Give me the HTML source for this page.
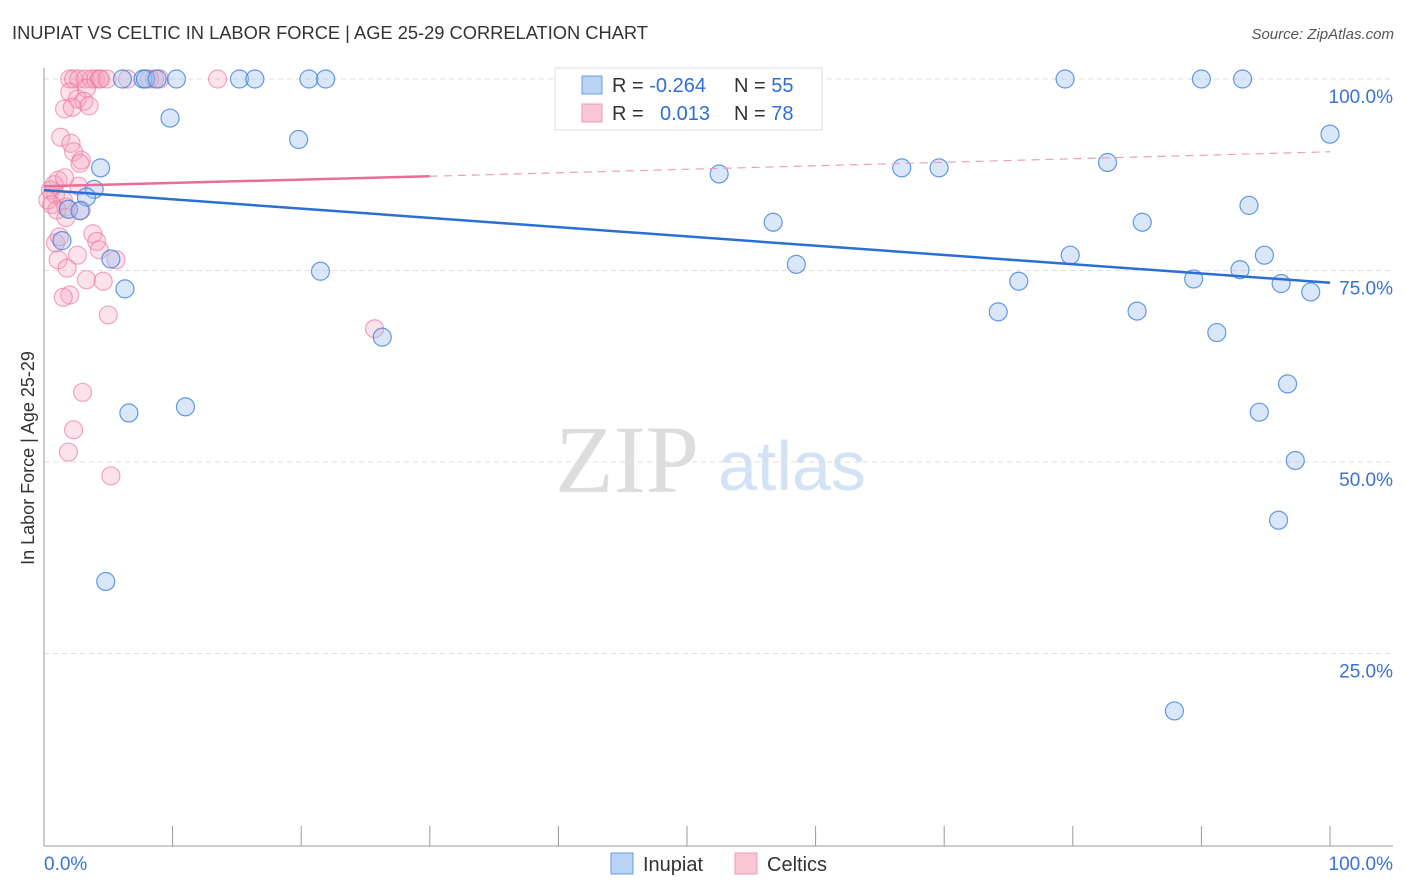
<!DOCTYPE html>
<html><head><meta charset="utf-8"><style>
body{margin:0;background:#fff;font-family:"Liberation Sans",sans-serif;}
svg{display:block}
</style></head><body>
<svg id="chart" width="1406" height="892">
<text x="12" y="39" font-size="18.3" fill="#333">INUPIAT VS CELTIC IN LABOR FORCE | AGE 25-29 CORRELATION CHART</text>
<text x="1394" y="39" font-size="15" fill="#555" font-style="italic" text-anchor="end">Source: ZipAtlas.com</text>
<text x="34" y="458" font-size="18" fill="#333" text-anchor="middle" transform="rotate(-90 34 458)">In Labor Force | Age 25-29</text>
<text x="555" y="492" font-size="96" fill="#ddd" font-family="Liberation Serif,serif">ZIP</text>
<text x="718" y="490" font-size="70" fill="#d3e3f5">atlas</text>
<g id="grid"></g><g id="marks"></g>
<g>
<rect x="555" y="68" width="267" height="62" fill="#fff" stroke="#ddd"/>
<rect x="582" y="76" width="20" height="18" fill="#b9d3f5" stroke="#6a9be0"/>
<rect x="582" y="104" width="20" height="18" fill="#f9c6d6" stroke="#ef9ab5"/>
<text x="612" y="92" font-size="20" fill="#333">R = <tspan fill="#2d6fd6">-0.264</tspan></text>
<text x="734" y="92" font-size="20" fill="#333">N = <tspan fill="#2d6fd6">55</tspan></text>
<text x="612" y="120" font-size="20" fill="#333">R = <tspan fill="#2d6fd6" x="660">0.013</tspan></text>
<text x="734" y="120" font-size="20" fill="#333">N = <tspan fill="#2d6fd6">78</tspan></text>
</g>
<g>
<rect x="611" y="853" width="22" height="21" fill="#b9d3f5" stroke="#6a9be0"/>
<text x="643" y="871" font-size="20" fill="#333">Inupiat</text>
<rect x="735" y="853" width="22" height="21" fill="#f9c6d6" stroke="#ef9ab5"/>
<text x="767" y="871" font-size="20" fill="#333">Celtics</text>
</g>
</svg>
<script>
const bluePts=[[4.4,88.4],[9.8,94.9],[19.8,92.1],[3.9,85.6],[3.3,84.6],[1.9,83.0],[2.8,82.8],[1.4,78.9],[5.2,76.5],[6.3,72.6],[21.5,74.9],[26.3,66.3],[6.6,56.4],[11.0,57.2],[4.8,34.4],
[6.1,100],[7.7,100],[7.9,100],[8.8,100],[10.3,100],[15.2,100],[16.4,100],[20.6,100],[21.9,100],[79.4,100],[90.0,100],[93.2,100],
[52.5,87.6],[56.7,81.3],[58.5,75.8],[66.7,88.4],[69.6,88.4],[82.7,89.1],[85.4,81.3],[79.8,77.0],[75.8,73.6],[74.2,69.6],[85.0,69.7],[89.4,73.9],[91.2,66.9],[93.7,83.5],[94.9,77.0],[93.0,75.1],[96.2,73.3],[98.5,72.2],[100,92.8],[96.7,60.2],[94.5,56.5],[97.3,50.2],[96.0,42.4],[87.9,17.5]];
const pinkPts=[[2.0,100],[2.3,100],[2.7,100],[3.2,100],[3.7,100],[4.0,100],[4.3,100],[4.4,100],[4.9,100],[6.5,100],[8.2,100],[8.6,100],[9.0,100],[13.5,100],
[2.0,98.3],[3.3,98.8],[2.6,97.4],[3.1,97.1],[3.5,96.5],[1.6,96.1],[2.2,96.3],[1.3,92.4],[2.1,91.6],[2.3,90.5],[2.9,89.4],[2.8,89.0],[1.1,86.8],[0.8,86.2],[1.6,87.1],[2.7,86.0],[0.5,85.5],[0.9,84.9],[0.3,84.2],[1.5,84.2],[0.6,83.6],[1.7,83.3],[1.0,82.9],[2.9,82.9],[1.7,81.9],[0.9,78.6],[1.2,79.4],[3.8,79.8],[4.1,78.8],[2.6,77.0],[1.1,76.4],[4.3,77.7],[1.8,75.3],[5.6,76.4],[3.3,73.8],[4.6,73.6],[2.0,71.8],[1.5,71.5],[5.0,69.2],[25.7,67.4],[3.0,59.1],[2.3,54.2],[1.9,51.3],[5.2,48.2]];
const yTicks=[25,50,75,100];
const yLabels=["25.0%","50.0%","75.0%","100.0%"];
const xTicks=[0,10,20,30,40,50,60,70,80,90,100];
const blueLine=[85.5,73.4];
const pinkLine=[86.0,87.3,90.5];
const X=v=>44+v*12.86, Y=v=>845-v*7.66;
const NS="http://www.w3.org/2000/svg";
function mk(t,a,p){const e=document.createElementNS(NS,t);for(const k in a)e.setAttribute(k,a[k]);p.appendChild(e);return e;}
const g=document.getElementById('grid'),m=document.getElementById('marks');
yTicks.forEach((t,i)=>{
 const l=mk('line',{x1:44,x2:1393,y1:Y(t),y2:Y(t),stroke:'#ddd','stroke-dasharray':'5,4'},g);
 
 
 const tx=mk('text',{x:1393,y:Y(t)+24,'font-size':19,fill:'#3a72d2','text-anchor':'end'},g);tx.textContent=yLabels[i];
 
 
});
const ax=mk('line',{x1:44,x2:44,y1:68,y2:846,stroke:'#999'},g);


const bx=mk('line',{x1:44,x2:1393,y1:846,y2:846,stroke:'#999'},g);


xTicks.forEach(t=>{const l=mk('line',{x1:X(t),x2:X(t),y1:826,y2:846,stroke:'#999'},g);
 
 });
[[0,'0.0%','start',44],[100,'100.0%','end',1393]].forEach(d=>{const tx=mk('text',{x:d[3],y:870,'font-size':19,fill:'#3a72d2','text-anchor':d[2]},g);tx.textContent=d[1];
 
 });
pinkPts.forEach(p=>{const c=mk('circle',{cx:X(p[0]),cy:Y(p[1]),r:9,fill:'rgba(244,160,188,0.3)',stroke:'rgba(236,120,160,0.65)','stroke-width':1.2},m);
 
 });
bluePts.forEach(p=>{const c=mk('circle',{cx:X(p[0]),cy:Y(p[1]),r:9,fill:'rgba(160,195,240,0.4)',stroke:'rgba(60,130,220,0.8)','stroke-width':1.2},m);
 
 });
const bl=mk('line',{x1:X(0),y1:Y(blueLine[0]),x2:X(100),y2:Y(blueLine[1]),stroke:'#2b6fd6','stroke-width':2.5},m);


const pl=mk('line',{x1:X(0),y1:Y(pinkLine[0]),x2:X(30),y2:Y(pinkLine[1]),stroke:'#e86e98','stroke-width':2.5},m);


const pd=mk('line',{x1:X(30),y1:Y(pinkLine[1]),x2:X(100),y2:Y(pinkLine[2]),stroke:'#eaa0bb','stroke-width':1.2,'stroke-dasharray':'8,6'},m);


</script>
</body></html>
